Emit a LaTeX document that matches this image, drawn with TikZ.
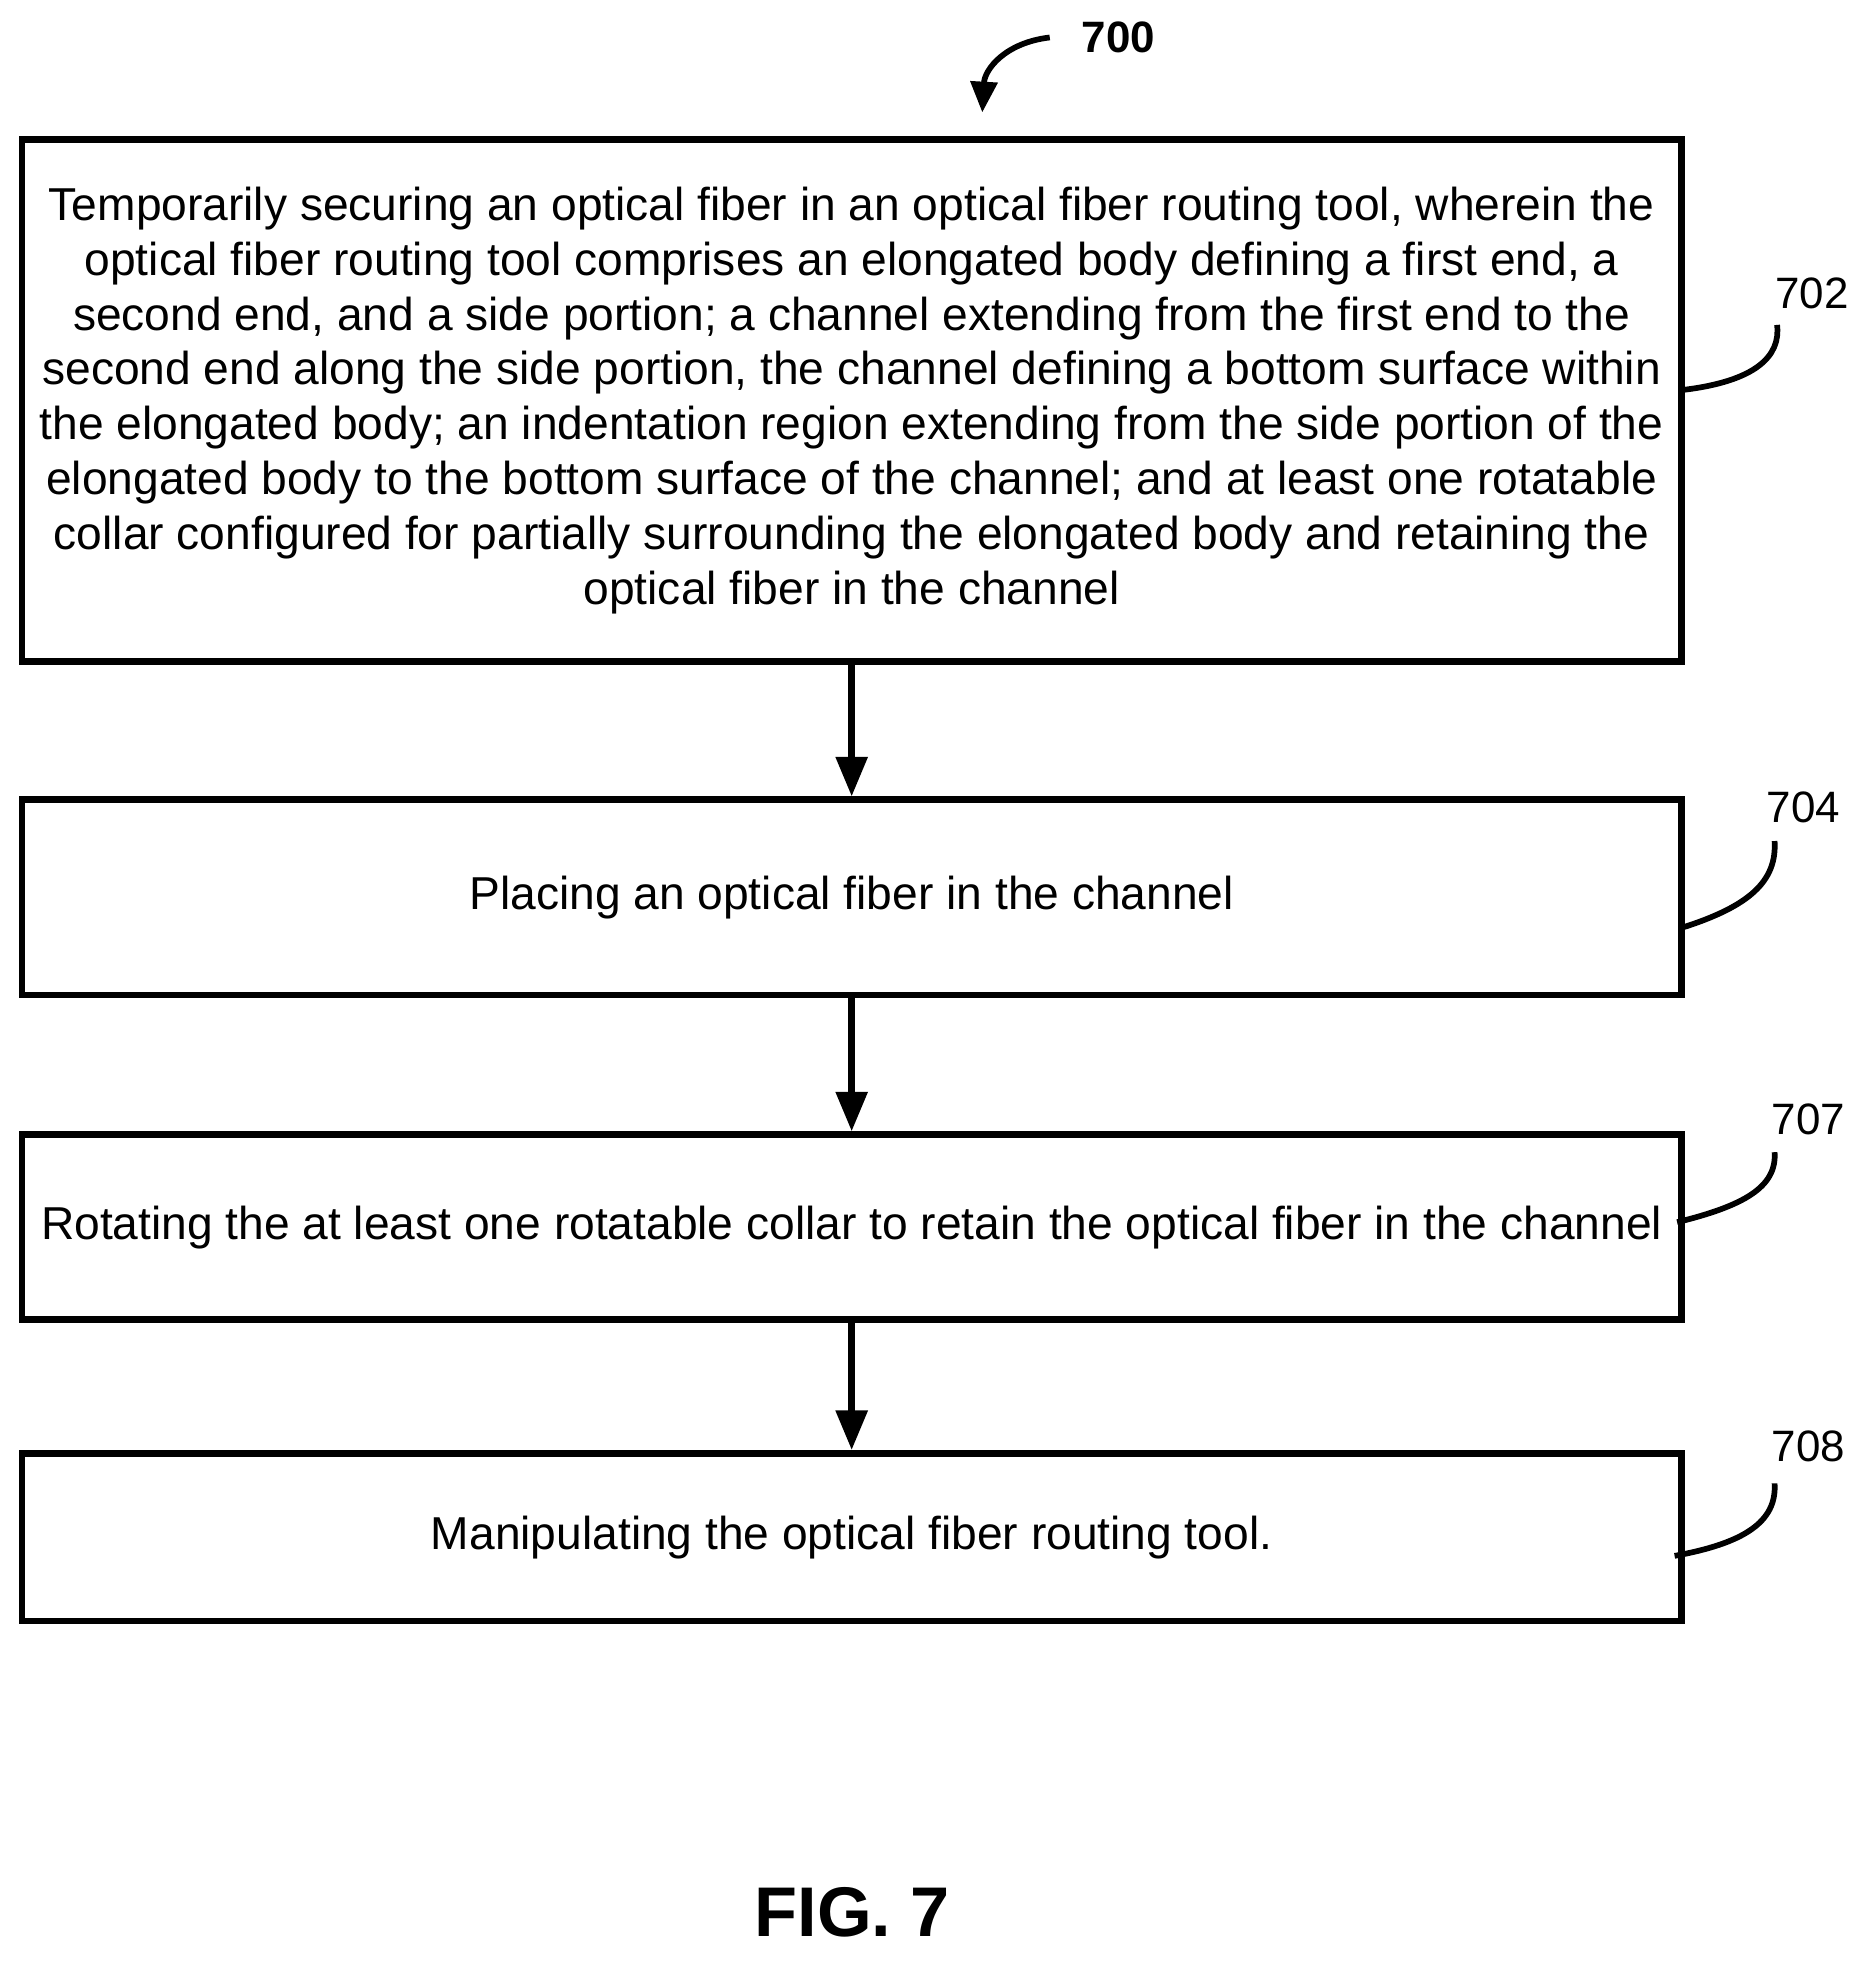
\documentclass[tikz,border=0pt]{standalone}
\usepackage{fontspec}
\setmainfont{Liberation Sans}
\usetikzlibrary{arrows.meta}
\tikzset{
  stepbox/.style={draw,line width=1.5pt,minimum width=13.27cm,align=center,inner sep=0pt,
    font=\fontsize{10.5}{12.5}\selectfont},
  flow/.style={line width=1.5pt,-{Triangle[length=9pt,width=7pt]}},
  tag/.style={font=\fontsize{10}{11}\selectfont},
  lead/.style={line width=1.3pt}
}
\begin{document}
\begin{tikzpicture}[x=0.01cm,y=-0.01cm]
	\useasboundingbox (0,0) rectangle (1500,1574);

	% title
	\node[tag,font=\bfseries\fontsize{10}{11}\selectfont] (fig) at (895,30) {700};
	\draw[lead,-{Triangle[length=7pt,width=6pt]}] (840,30) .. controls (805,34) and (788,55) .. (786,90);

	% steps
	\node[stepbox,minimum height=4.17cm] (s702) at (681.5,320.5)
	{Temporarily securing an optical fiber in an optical fiber routing tool, wherein the\\
	optical fiber routing tool comprises an elongated body defining a first end, a\\
	second end, and a side portion; a channel extending from the first end to the\\
	second end along the side portion, the channel defining a bottom surface within\\
	the elongated body; an indentation region extending from the side portion of the\\
	elongated body to the bottom surface of the channel; and at least one rotatable\\
	collar configured for partially surrounding the elongated body and retaining the\\
	optical fiber in the channel};
	\node[stepbox,minimum height=1.56cm] (s704) at (681.5,718) {Placing an optical fiber in the channel};
	\node[stepbox,minimum height=1.48cm] (s707) at (681.5,982) {Rotating the at least one rotatable collar to retain the optical fiber in the channel};
	\node[stepbox,minimum height=1.34cm] (s708) at (681.5,1230) {Manipulating the optical fiber routing tool.};

	\draw[flow] (s702) -- (s704);
	\draw[flow] (s704) -- (s707);
	\draw[flow] (s707) -- (s708);

	% reference numerals
	\node[tag] (n702) at (1450,235) {702};
	\node[tag] (n704) at (1443,646) {704};
	\node[tag] (n707) at (1447,896) {707};
	\node[tag] (n708) at (1447,1157) {708};
	\draw[lead] (1347,312) .. controls (1405,305) and (1425,285) .. (1422,260);
	\draw[lead] (1347,742) .. controls (1400,725) and (1422,705) .. (1420,673);
	\draw[lead] (1342,978) .. controls (1395,965) and (1422,950) .. (1420,922);
	\draw[lead] (1340,1245) .. controls (1395,1235) and (1422,1218) .. (1420,1187);

	\node[font=\bfseries\fontsize{16}{18}\selectfont] (cap) at (682,1530) {FIG. 7};
\end{tikzpicture}
\end{document}
